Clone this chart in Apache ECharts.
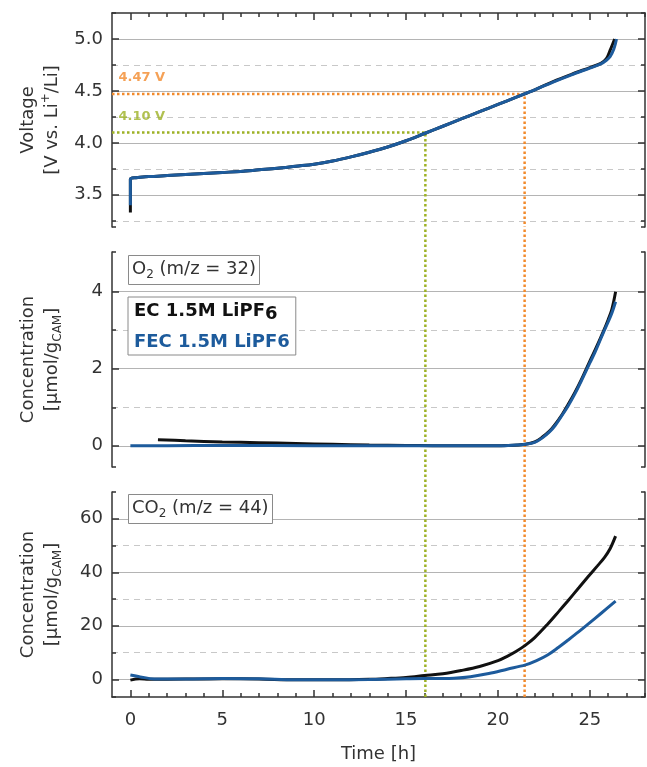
<!DOCTYPE html>
<html>
<head>
<meta charset="utf-8">
<script src="https://cdn.jsdelivr.net/npm/echarts@6/dist/echarts.min.js"></script>
<style>
  html, body { margin: 0; padding: 0; background: #fff; }
  #chart { width: 647px; height: 767px; }
</style>
</head>
<body>
<div id="chart"></div>
<script>
const FONT = 'DejaVu Sans';
const AXIS = '#333';
const BLUE = '#1d5b9c';
const BLACK = '#111';
const ORANGE = '#f28a2c';
const GREEN = '#9db125';

// x axis (time, h)
const timeRange = [-1, 28];
const timeMajor = [0, 5, 10, 15, 20, 25];
const timeMinor = [1, 2, 3, 4, 6, 7, 8, 9, 11, 12, 13, 14, 16, 17, 18, 19, 21, 22, 23, 24, 26, 27, 28];

// y axes
const voltRange = [3.19, 5.25];
const voltMajor = [3.5, 4.0, 4.5, 5.0];
const voltMinor = [3.25, 3.75, 4.25, 4.75];
const o2Range = [-0.55, 5.03];
const o2Major = [0, 2, 4];
const o2Minor = [1, 3];
const co2Range = [-6.6, 70];
const co2Major = [0, 20, 40, 60];
const co2Minor = [10, 30, 50];

// voltage profile
const timeVoltEC  = [0, 0, 0.3, 1, 2, 3, 4, 5, 6, 7, 8, 9, 10, 11, 12, 13, 14, 15, 16, 17, 18, 19, 20, 21, 22, 23, 24, 25, 25.6, 25.9, 26.1, 26.35];
const voltEC      = [3.33, 3.65, 3.665, 3.675, 3.685, 3.695, 3.705, 3.715, 3.725, 3.74, 3.755, 3.775, 3.795, 3.825, 3.865, 3.91, 3.96, 4.02, 4.09, 4.16, 4.23, 4.30, 4.37, 4.44, 4.51, 4.59, 4.66, 4.725, 4.765, 4.81, 4.89, 5.0];
const timeVoltFEC = [0, 0, 0.3, 1, 2, 3, 4, 5, 6, 7, 8, 9, 10, 11, 12, 13, 14, 15, 16, 17, 18, 19, 20, 21, 22, 23, 24, 25, 25.6, 25.9, 26.1, 26.3, 26.45];
const voltFEC     = [3.40, 3.65, 3.665, 3.675, 3.685, 3.695, 3.705, 3.715, 3.725, 3.74, 3.755, 3.775, 3.795, 3.825, 3.865, 3.91, 3.96, 4.02, 4.09, 4.16, 4.23, 4.30, 4.37, 4.44, 4.51, 4.585, 4.655, 4.72, 4.76, 4.795, 4.83, 4.90, 5.0];

// O2 evolution
const timeO2EC  = [1.5, 3, 5, 7, 9, 11, 13, 15, 17, 19, 20.5, 21.5, 22, 22.4, 22.8, 23.1, 23.5, 23.8, 24.2, 24.55, 25, 25.3, 25.7, 26.0, 26.2, 26.4];
const o2EC      = [0.16, 0.13, 0.10, 0.08, 0.06, 0.04, 0.02, 0.01, 0.0, 0.0, 0.01, 0.04, 0.10, 0.22, 0.38, 0.55, 0.82, 1.06, 1.40, 1.73, 2.20, 2.50, 2.93, 3.28, 3.55, 4.0];
const timeO2FEC = [0, 2, 5, 10, 15, 20, 21, 21.5, 22, 22.4, 22.8, 23.1, 23.5, 23.8, 24.2, 24.55, 25, 25.3, 25.7, 26.0, 26.2, 26.4];
const o2FEC     = [0.0, 0.0, 0.01, 0.0, 0.0, 0.0, 0.02, 0.04, 0.09, 0.20, 0.36, 0.52, 0.80, 1.02, 1.36, 1.70, 2.15, 2.45, 2.90, 3.22, 3.45, 3.74];

// CO2 evolution
const timeCO2EC  = [0, 0.5, 1, 3, 5, 7, 9, 11, 13, 14, 15, 16, 17, 18, 19, 20, 20.5, 21, 21.5, 22, 22.7, 23.3, 23.8, 24.4, 24.9, 25.4, 25.8, 26.1, 26.4];
const co2EC      = [-0.3, 0.2, 0.0, 0.1, 0.2, 0.1, -0.2, -0.2, 0.0, 0.3, 0.7, 1.4, 2.1, 3.3, 4.8, 7.0, 8.6, 10.5, 12.8, 15.6, 20.6, 25.3, 29.3, 34.2, 38.3, 42.3, 45.6, 48.8, 53.5];
const timeCO2FEC = [0, 0.5, 1.3, 3, 5, 7, 9, 11, 13, 15, 16, 17, 17.6, 18.5, 19.5, 20.5, 21.5, 22.1, 22.7, 23.3, 23.8, 24.4, 24.9, 25.6, 26.4];
const co2FEC     = [1.6, 1.0, 0.1, 0.1, 0.3, 0.2, -0.2, -0.2, -0.1, 0.2, 0.3, 0.3, 0.4, 1.0, 2.2, 3.8, 5.4, 7.0, 9.1, 12.0, 14.6, 17.8, 20.6, 24.6, 29.2];

// cut-off markers
const markerTimes = [21.45, 16.05];
const markerVolts = [4.47, 4.10];
const markerLabels = ['4.47 V', '4.10 V'];
const markerColors = [ORANGE, GREEN];

const seriesNames = ['EC 1.5M LiPF6', 'FEC 1.5M LiPF6'];

const zip = (xs, ys) => xs.map((x, i) => [x, ys[i]]);

const RICH = {
  n: {fontFamily: FONT, fontSize: 18, fontWeight: 'normal', color: '#333', lineHeight: 24},
  sub: {fontFamily: FONT, fontSize: 12, fontWeight: 'normal', color: '#333', lineHeight: 13, verticalAlign: 'bottom'},
  sup: {fontFamily: FONT, fontSize: 12, fontWeight: 'normal', color: '#333', lineHeight: 13, verticalAlign: 'top'}
};

const tickStyle = {color: AXIS, width: 1.5};

function yAxes(grid, range, major, minor, name, fmt) {
  const base = {
    type: 'value', gridIndex: grid, min: range[0], max: range[1], position: 'left',
    axisLine: {show: false, onZero: false}, axisTick: {show: false}, axisLabel: {show: false}, splitLine: {show: false}
  };
  const line = {show: true, onZero: false, lineStyle: {color: AXIS, width: 1.5}};
  return [
    Object.assign({}, base, {
      axisLine: line,
      axisTick: {show: true, inside: true, length: 7, customValues: major, lineStyle: tickStyle},
      axisLabel: {show: true, customValues: major, formatter: fmt, margin: 9, fontFamily: FONT, fontSize: 18, color: '#333'},
      splitLine: {show: true, lineStyle: {color: '#b4b4b4', width: 1.2}},
      name: name, nameLocation: 'middle', nameGap: 48, nameRotate: 90,
      nameTextStyle: {rich: RICH, align: 'center'}
    }),
    Object.assign({}, base, {
      axisTick: {show: false, customValues: minor},
      splitLine: {show: true, lineStyle: {color: '#c8c8c8', width: 1.2, type: [6, 5]}}
    }),
    Object.assign({}, base, {
      axisTick: {show: true, inside: true, length: 4, customValues: minor.concat(range), lineStyle: tickStyle}
    }),
    Object.assign({}, base, {
      position: 'right', axisLine: line,
      axisTick: {show: true, inside: true, length: 7, customValues: major, lineStyle: tickStyle}
    }),
    Object.assign({}, base, {
      position: 'right',
      axisTick: {show: true, inside: true, length: 4, customValues: minor.concat(range), lineStyle: tickStyle}
    })
  ];
}

const xBase = {
  type: 'value', min: timeRange[0], max: timeRange[1],
  axisLine: {show: false, onZero: false}, axisTick: {show: false}, axisLabel: {show: false}, splitLine: {show: false}
};
const xLine = {show: true, onZero: false, lineStyle: {color: AXIS, width: 1.5}};
const xAxes = [
  Object.assign({}, xBase, {gridIndex: 0, position: 'top', axisLine: xLine,
    axisTick: {show: true, inside: true, length: 7, customValues: timeMajor, lineStyle: tickStyle}}),
  Object.assign({}, xBase, {gridIndex: 0, position: 'top',
    axisTick: {show: true, inside: true, length: 4, customValues: timeMinor, lineStyle: tickStyle}}),
  Object.assign({}, xBase, {gridIndex: 1, position: 'bottom'}),
  Object.assign({}, xBase, {gridIndex: 2, position: 'bottom', axisLine: xLine,
    axisTick: {show: true, inside: true, length: 7, customValues: timeMajor, lineStyle: tickStyle},
    axisLabel: {show: true, customValues: timeMajor, margin: 14, fontFamily: FONT, fontSize: 18, color: '#333'},
    name: 'Time [h]', nameLocation: 'middle', nameGap: 48,
    nameTextStyle: {fontFamily: FONT, fontSize: 18, color: '#333'}}),
  Object.assign({}, xBase, {gridIndex: 2, position: 'bottom',
    axisTick: {show: true, inside: true, length: 4, customValues: timeMinor, lineStyle: tickStyle}}),
  Object.assign({}, xBase, {gridIndex: 3, show: false})
];

const yAxisList = []
  .concat(yAxes(0, voltRange, voltMajor, voltMinor, '{n|Voltage}\n{n|[V vs. Li}{sup|+}{n|/Li]}', v => v.toFixed(1)))
  .concat(yAxes(1, o2Range, o2Major, o2Minor, '{n|Concentration}\n{n|[µmol/g}{sub|CAM}{n|]}', v => String(v)))
  .concat(yAxes(2, co2Range, co2Major, co2Minor, '{n|Concentration}\n{n|[µmol/g}{sub|CAM}{n|]}', v => String(v)))
  .concat([{type: 'value', gridIndex: 3, min: 0, max: 1, show: false}]);

const dotted = c => ({color: c, width: 2.5, type: [2.5, 2.5]});
const series = [];

markerTimes.forEach((t, i) => {
  series.push({
    type: 'line', xAxisIndex: 0, yAxisIndex: 0, silent: true, showSymbol: false,
    lineStyle: dotted(markerColors[i]),
    data: [[timeRange[0], markerVolts[i]], [t, markerVolts[i]], [t, voltRange[0]]]
  });
  series.push({
    type: 'line', xAxisIndex: 5, yAxisIndex: 15, silent: true, showSymbol: false,
    lineStyle: dotted(markerColors[i]),
    data: [[t, 0], [t, 1]]
  });
  series.push({
    type: 'scatter', xAxisIndex: 0, yAxisIndex: 0, silent: true, symbolSize: 1,
    itemStyle: {color: 'rgba(0,0,0,0)'},
    label: {show: true, position: 'right', distance: 0, offset: [6, -16], formatter: markerLabels[i],
      fontFamily: FONT, fontSize: 13, fontWeight: 'bold', color: markerColors[i]},
    data: [[timeRange[0], markerVolts[i]]]
  });
});

function curve(name, color, xi, yi, data) {
  return {
    name: name, type: 'line', xAxisIndex: xi, yAxisIndex: yi, showSymbol: false,
    smooth: 0.35, color: color,
    lineStyle: {color: color, width: 3}, data: data
  };
}

series.push(curve(seriesNames[0], BLACK, 0, 0, zip(timeVoltEC, voltEC)));
series.push(curve(seriesNames[1], BLUE, 0, 0, zip(timeVoltFEC, voltFEC)));
series.push(curve(seriesNames[0], BLACK, 2, 5, zip(timeO2EC, o2EC)));
series.push(curve(seriesNames[1], BLUE, 2, 5, zip(timeO2FEC, o2FEC)));
series.push(curve(seriesNames[0], BLACK, 3, 10, zip(timeCO2EC, co2EC)));
series.push(curve(seriesNames[1], BLUE, 3, 10, zip(timeCO2FEC, co2FEC)));

const boxTitle = (text, top) => ({
  text: text, left: 128, top: top, padding: [5, 4, 4, 4],
  borderColor: '#8a8a8a', borderWidth: 1, backgroundColor: '#fff',
  textStyle: {fontWeight: 'normal', rich: RICH}
});

const option = {
  animation: false,
  backgroundColor: '#fff',
  title: [
    boxTitle('{n|O}{sub|2}{n| (m/z = 32)}', 252),
    boxTitle('{n|CO}{sub|2}{n| (m/z = 44)}', 491)
  ],
  legend: {
    data: [
      {name: seriesNames[0], textStyle: {color: BLACK}},
      {name: seriesNames[1], textStyle: {color: BLUE}}
    ],
    orient: 'vertical', left: 128, top: 297,
    icon: 'none', itemWidth: 0, itemHeight: 10, itemGap: 10,
    padding: [5, 6, 4, 1],
    borderColor: '#8a8a8a', borderWidth: 1, backgroundColor: '#fff',
    selectedMode: false,
    formatter: name => name === seriesNames[0] ? '{e|EC 1.5M LiPF}{es|6}' : '{f|FEC 1.5M LiPF6}',
    textStyle: {
      rich: {
        e: {fontFamily: FONT, fontSize: 18, fontWeight: 'bold', color: BLACK, lineHeight: 24},
        es: {fontFamily: FONT, fontSize: 18, fontWeight: 'bold', color: BLACK, lineHeight: 16, verticalAlign: 'bottom'},
        f: {fontFamily: FONT, fontSize: 18, fontWeight: 'bold', color: BLUE, lineHeight: 24}
      }
    }
  },
  grid: [
    {left: 112, width: 533, top: 13, height: 214},
    {left: 112, width: 533, top: 252, height: 215},
    {left: 112, width: 533, top: 492, height: 205},
    {left: 112, width: 533, top: 227, height: 470}
  ],
  xAxis: xAxes,
  yAxis: yAxisList,
  series: series
};

const chart = echarts.init(document.getElementById('chart'));
chart.setOption(option);
</script>
</body>
</html>
